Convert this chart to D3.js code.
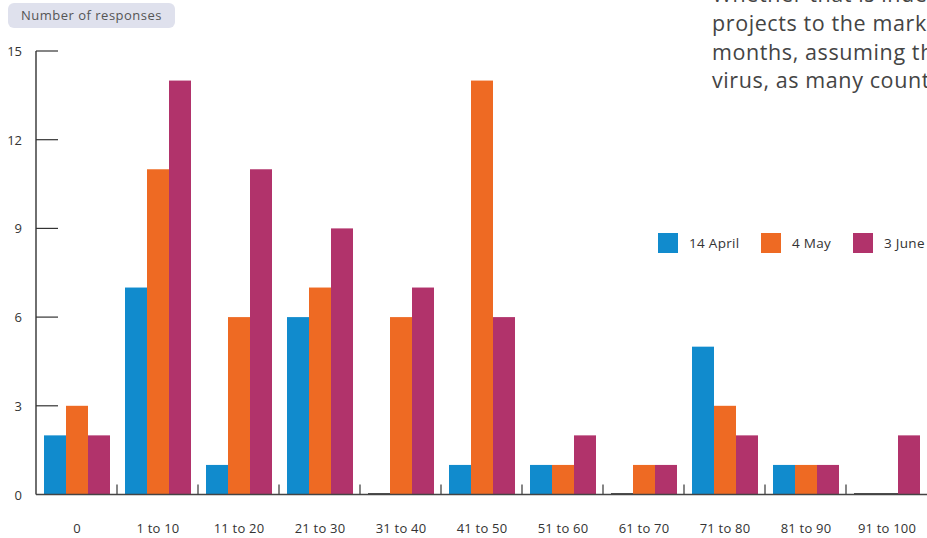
<!DOCTYPE html>
<html>
<head>
<meta charset="utf-8">
<script src="https://cdn.jsdelivr.net/npm/d3@7"></script>
<style>
  body { margin: 0; background: #fff; }
  svg { display: block; font-family: "Open Sans", "Noto Sans", sans-serif; }
</style>
</head>
<body>
<svg id="chart" width="927" height="538"></svg>
<script>
// data
const categories = ["0", "1 to 10", "11 to 20", "21 to 30", "31 to 40", "41 to 50",
    "51 to 60", "61 to 70", "71 to 80", "81 to 90", "91 to 100"];
const seriesNames = ["14 April", "4 May", "3 June"];
const april14 = [2, 7, 1, 6, 0, 1, 1, 0, 5, 1, 0];
const may4 = [3, 11, 6, 7, 6, 14, 1, 1, 3, 1, 0];
const june3 = [2, 14, 11, 9, 7, 6, 2, 1, 2, 1, 2];
const yTicks = [0, 3, 6, 9, 12, 15];
const bodyLines = ["Whether that is indeed the case depends on the return of",
    "projects to the market over the coming",
    "months, assuming there is no second wave of the",
    "virus, as many countries ease their lockdowns."];

const colors = ["#118bcd", "#ee6a23", "#b1336b"];
const values = [april14, may4, june3];

const svg = d3.select("#chart");
const plotLeft = 36, plotRight = 927, plotTop = 51, plotBottom = 494.5;

const x = d3.scaleBand()
    .domain(categories)
    .range([plotLeft, plotRight])
    .paddingInner(0)
    .paddingOuter(0);

const inner = d3.scaleBand()
    .domain(seriesNames)
    .range([8, x.bandwidth() - 7]);

const y = d3.scaleLinear().domain([0, 15]).range([plotBottom, plotTop]);

// side text, cut by the frame
const body = svg.append("text")
    .attr("x", 712)
    .attr("y", 2)
    .style("font-size", "21.5px")
    .style("letter-spacing", "0.6px")
    .style("fill", "#444");
bodyLines.forEach((t, i) => {
    body.append("tspan").attr("x", 712).attr("y", 2 + i * 28.8).text(t);
});

// axis title pill
svg.append("rect")
    .attr("x", 8).attr("y", 3)
    .attr("width", 167).attr("height", 25)
    .attr("rx", 6)
    .style("fill", "#dfe1ed");
svg.append("text")
    .attr("x", 91.5).attr("y", 20)
    .attr("text-anchor", "middle")
    .style("font-size", "13px")
    .style("letter-spacing", "0.5px")
    .style("fill", "#555")
    .text("Number of responses");

// y axis
const yAxis = svg.append("g");
yAxis.append("line")
    .attr("x1", plotLeft).attr("x2", plotLeft)
    .attr("y1", y(15)).attr("y2", plotBottom)
    .style("stroke", "#222").style("stroke-width", 1.3);
yAxis.selectAll(".ytick")
    .data(yTicks.filter(d => d > 0))
    .enter()
    .append("line")
    .attr("class", "ytick")
    .attr("x1", plotLeft).attr("x2", plotLeft + 22)
    .attr("y1", d => y(d)).attr("y2", d => y(d))
    .style("stroke", "#333").style("stroke-width", 1.2);
yAxis.selectAll(".ylabel")
    .data(yTicks)
    .enter()
    .append("text")
    .attr("class", "ylabel")
    .attr("x", 22)
    .attr("y", d => y(d) + 5)
    .attr("text-anchor", "end")
    .style("font-size", "13px")
    .style("fill", "#333")
    .text(d => d);

// bars
const groups = svg.selectAll(".group")
    .data(categories)
    .enter()
    .append("g")
    .attr("class", "group")
    .attr("transform", d => `translate(${x(d)},0)`);

groups.selectAll("rect")
    .data((c, i) => seriesNames.map((s, j) => ({ s: s, j: j, v: values[j][i] })))
    .enter()
    .append("rect")
    .attr("x", d => inner(d.s))
    .attr("width", inner.bandwidth())
    .attr("y", d => y(d.v))
    .attr("height", d => plotBottom - y(d.v))
    .style("fill", d => colors[d.j]);

// zero values show as a dark stub on the baseline
groups.selectAll(".zero")
    .data((c, i) => seriesNames.map((s, j) => ({ s: s, v: values[j][i] })).filter(d => d.v === 0))
    .enter()
    .append("line")
    .attr("class", "zero")
    .attr("x1", d => inner(d.s)).attr("x2", d => inner(d.s) + inner.bandwidth())
    .attr("y1", plotBottom - 0.5).attr("y2", plotBottom - 0.5)
    .style("stroke", "#222").style("stroke-width", 1.6);

// x axis
svg.append("line")
    .attr("x1", plotLeft).attr("x2", plotRight)
    .attr("y1", plotBottom).attr("y2", plotBottom)
    .style("stroke", "#444").style("stroke-width", 1.3);
svg.selectAll(".xtick")
    .data(categories.slice(1))
    .enter()
    .append("line")
    .attr("class", "xtick")
    .attr("x1", d => x(d)).attr("x2", d => x(d))
    .attr("y1", plotBottom).attr("y2", plotBottom - 10)
    .style("stroke", "#444").style("stroke-width", 1.3);
svg.selectAll(".xlabel")
    .data(categories)
    .enter()
    .append("text")
    .attr("class", "xlabel")
    .attr("x", d => x(d) + 8 + (x.bandwidth() - 15) / 2)
    .attr("y", 533)
    .attr("text-anchor", "middle")
    .style("font-size", "13px")
    .style("letter-spacing", "0.2px")
    .style("fill", "#333")
    .text(d => d);

// legend
const legend = svg.selectAll(".legend")
    .data(seriesNames)
    .enter()
    .append("g")
    .attr("class", "legend")
    .attr("transform", (d, i) => `translate(${[658, 761, 853][i]},233)`);
legend.append("rect")
    .attr("width", 20).attr("height", 20)
    .style("fill", (d, i) => colors[i]);
legend.append("text")
    .attr("x", 31).attr("y", 15)
    .style("font-size", "13.5px")
    .style("letter-spacing", "0.3px")
    .style("fill", "#333")
    .text(d => d);
</script>
</body>
</html>
